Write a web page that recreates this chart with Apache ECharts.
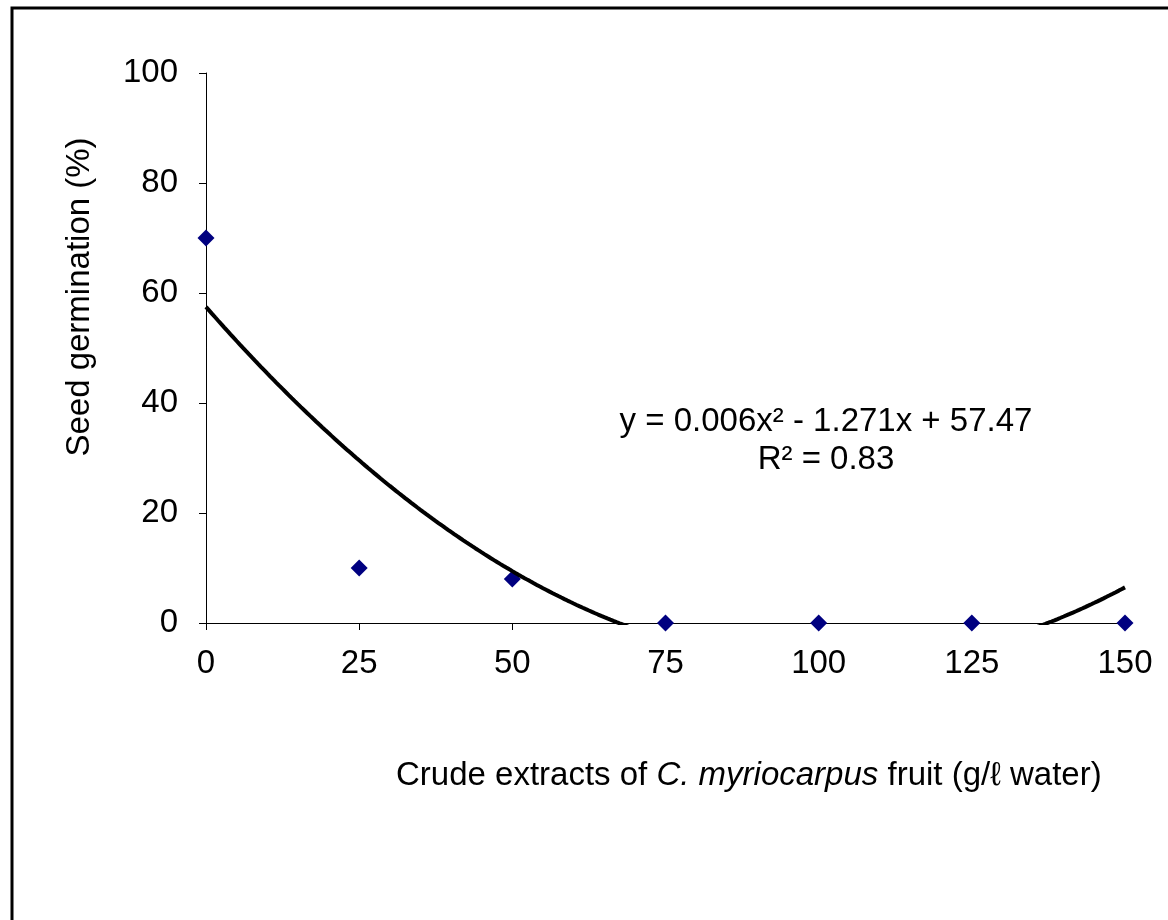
<!DOCTYPE html>
<html>
<head>
<meta charset="utf-8">
<script src="https://cdn.jsdelivr.net/npm/echarts@6/dist/echarts.min.js"></script>
<style>html,body{margin:0;padding:0;background:#fff;}#c{width:1168px;height:920px;}</style>
</head>
<body>
<div id="c"></div>
<script>
// ---- data ----
const doses = [0, 25, 50, 75, 100, 125, 150];          // g/ℓ water
const germination = [70, 10, 8, 0, 0, 0, 0];          // %
const xTicks = [0, 25, 50, 75, 100, 125, 150];
const yTicks = [0, 20, 40, 60, 80, 100];
const equationText = 'y = 0.006x² - 1.271x + 57.47';
const r2Text = 'R² = 0.83';

// quadratic least-squares trendline computed from the data
function polyFit2(xs, ys) {
  let S = [0,0,0,0,0], T = [0,0,0];
  for (let i = 0; i < xs.length; i++) {
    let p = 1;
    for (let k = 0; k < 5; k++) { S[k] += p; if (k < 3) T[k] += p * ys[i]; p *= xs[i]; }
  }
  const M = [[S[0],S[1],S[2],T[0]],[S[1],S[2],S[3],T[1]],[S[2],S[3],S[4],T[2]]];
  for (let i = 0; i < 3; i++) {
    for (let j = i + 1; j < 3; j++) {
      const f = M[j][i] / M[i][i];
      for (let k = i; k < 4; k++) M[j][k] -= f * M[i][k];
    }
  }
  const c = [0,0,0];
  for (let i = 2; i >= 0; i--) {
    let s = M[i][3];
    for (let k = i + 1; k < 3; k++) s -= M[i][k] * c[k];
    c[i] = s / M[i][i];
  }
  return c;
}
const coef = polyFit2(doses, germination);
const trend = [];
for (let x = 0; x <= 150; x += 0.5) trend.push([x, coef[0] + coef[1]*x + coef[2]*x*x]);

const font = '"Liberation Sans", Arial, sans-serif';
const chart = echarts.init(document.getElementById('c'), null, {renderer: 'canvas'});
chart.setOption({
  backgroundColor: '#fff',
  animation: false,
  grid: {left: 206, right: 43, top: 73, bottom: 297, containLabel: false},
  xAxis: {
    type: 'value', min: 0, max: 150, interval: 25,
    axisLine: {show: true, onZero: false, lineStyle: {color: '#000', width: 1}},
    axisTick: {show: true, inside: false, length: 7, lineStyle: {color: '#000'}},
    splitLine: {show: false},
    axisLabel: {color: '#000', fontSize: 33, fontFamily: font, margin: 24,
      customValues: xTicks},
  },
  yAxis: {
    type: 'value', min: 0, max: 100, interval: 20,
    axisLine: {show: true, lineStyle: {color: '#000', width: 1}},
    axisTick: {show: true, inside: false, length: 7, lineStyle: {color: '#000'}},
    splitLine: {show: false},
    axisLabel: {color: '#000', fontSize: 33, fontFamily: font, margin: 28,
      customValues: yTicks},
  },
  series: [
    {
      type: 'scatter', data: doses.map((d, i) => [d, germination[i]]),
      symbol: 'diamond', symbolSize: [17, 17],
      itemStyle: {color: '#000080', opacity: 1}, z: 2, clip: false
    },
    {
      type: 'line', data: trend, showSymbol: false, symbol: 'none', smooth: false,
      lineStyle: {color: '#000', width: 4}, clip: true, z: 3
    }
  ],
  graphic: [
    {type: 'rect', shape: {x: 12, y: 8, width: 1200, height: 1000},
      style: {fill: 'none', stroke: '#000', lineWidth: 3}, z: 10},
    {type: 'text', x: 80, y: 297, rotation: Math.PI / 2,
      style: {text: 'Seed germination (%)', font: '33px ' + font, fill: '#000',
        textAlign: 'center', textVerticalAlign: 'middle'}},
    {type: 'text', x: 396, y: 776,
      style: {
        text: '{n|Crude extracts of }{i|C. myriocarpus}{n| fruit (g/ℓ water)}',
        textVerticalAlign: 'middle', textAlign: 'left',
        rich: {
          n: {fontSize: 33, fontFamily: font, fill: '#000'},
          i: {fontSize: 33, fontFamily: font, fontStyle: 'italic', fill: '#000'}
        }
      }},
    {type: 'text', x: 826, y: 441,
      style: {text: equationText + '\n' + r2Text, font: '33px ' + font, fill: '#000',
        textAlign: 'center', textVerticalAlign: 'middle', lineHeight: 38}}
  ]
});
</script>
</body>
</html>
